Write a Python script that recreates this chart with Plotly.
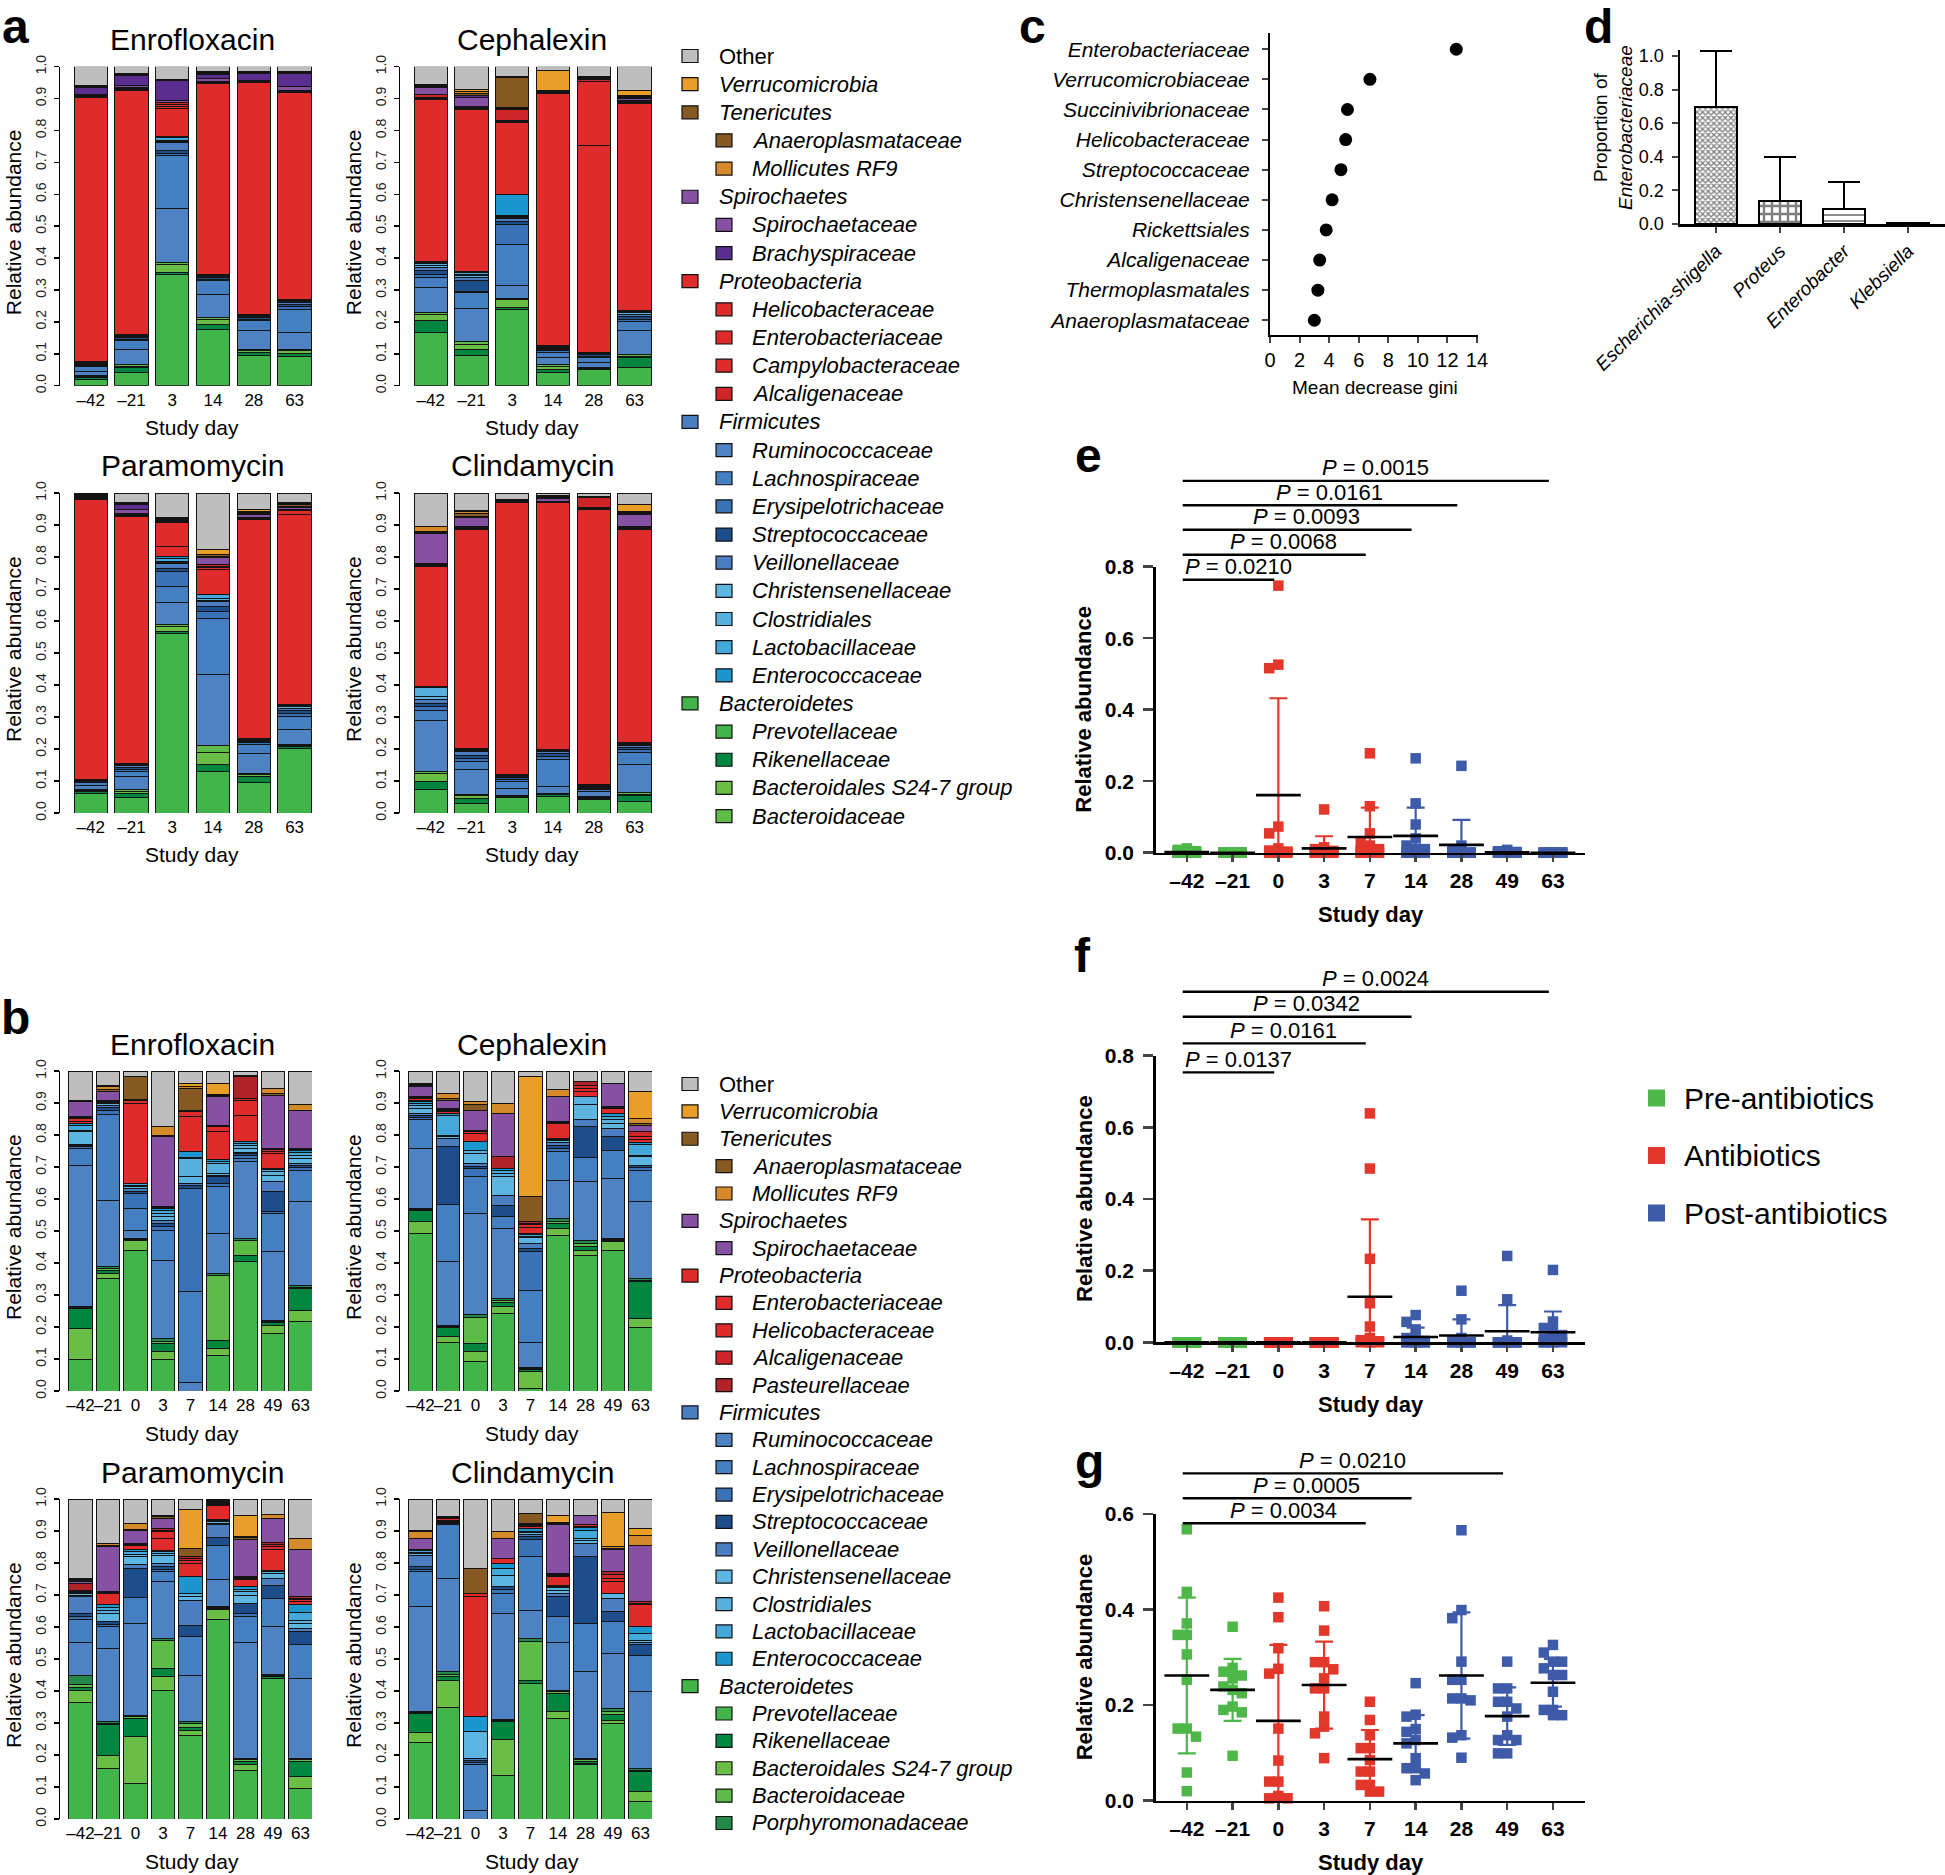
import numpy as np
import plotly.graph_objects as go

W, H = 1945, 1875
FONT = "Liberation Sans, Arial, Helvetica, sans-serif"

# ---------------- colours of the taxa ----------------
COLORS = {
    "other": "#BEBEBE", "verr": "#E99F27", "tene": "#875A24", "anae": "#875A24", "moll": "#D4892B",
    "spiro_p": "#8650A3", "spir": "#8650A3", "brac": "#5B2D8E",
    "prot": "#E02B2B", "heli": "#E02B2B", "entb": "#E02B2B", "camp": "#E02B2B",
    "alca": "#CF2529", "past": "#B22329",
    "firm": "#4A7EC0", "rum": "#4F82C3", "lach": "#4480C1", "erys": "#3A72B8", "strep": "#1E4D8C",
    "veil": "#4C7DC0", "chri": "#5DB5E2", "clos": "#58B0DE", "lact": "#45A8DA", "entc": "#1C96CF",
    "bacd": "#42B54A", "prev": "#42B54A", "rik": "#00863F", "s24": "#6ABD45", "bact": "#5DBB47",
    "porph": "#22894A",
}

# stacking order, bottom to top
ORDER_A = ["prev", "rik", "s24", "bact", "rum", "lach", "erys", "strep", "veil", "chri", "clos",
           "lact", "entc", "heli", "entb", "camp", "alca", "spir", "brac", "anae", "moll", "verr", "other"]
ORDER_B = ["prev", "s24", "rik", "bact", "porph", "rum", "lach", "erys", "strep", "veil", "chri", "clos",
           "lact", "entc", "entb", "heli", "alca", "past", "spir", "anae", "moll", "verr", "other"]

days_a = ["–42", "–21", "3", "14", "28", "63"]
days_b = ["–42", "–21", "0", "3", "7", "14", "28", "49", "63"]

# ---------------- panel a : relative abundance (days -42,-21,3,14,28,63) ----------------
a_enro = {
    "prev": [0.019, 0.042, 0.350, 0.177, 0.096, 0.092], "rik": [0.006, 0.015, 0.004, 0.016, 0.008, 0.010],
    "s24": [0.004, 0.004, 0.027, 0.016, 0.007, 0.008], "bact": [0.004, 0.005, 0.005, 0.004, 0.004, 0.005],
    "rum": [0.012, 0.049, 0.169, 0.074, 0.057, 0.052], "lach": [0.014, 0.026, 0.167, 0.042, 0.032, 0.073],
    "erys": [0.004, 0.005, 0.006, 0.005, 0.005, 0.008], "strep": [0.003, 0.005, 0.008, 0.005, 0.004, 0.008],
    "veil": [0.003, 0.004, 0.026, 0.004, 0.004, 0.006], "chri": [0.002, 0.003, 0.003, 0.003, 0.003, 0.003],
    "clos": [0.002, 0.002, 0.004, 0.002, 0.002, 0.003], "lact": [0.001, 0.001, 0.010, 0.001, 0.001, 0.001],
    "entc": [0.001, 0.001, 0.003, 0.001, 0.001, 0.001], "heli": [0.828, 0.763, 0.086, 0.598, 0.726, 0.648],
    "entb": [0.003, 0.004, 0.006, 0.003, 0.003, 0.003], "camp": [0.002, 0.002, 0.006, 0.001, 0.001, 0.002],
    "alca": [0.002, 0.003, 0.009, 0.002, 0.001, 0.002], "spir": [0.003, 0.008, 0.004, 0.010, 0.003, 0.012],
    "brac": [0.023, 0.030, 0.064, 0.012, 0.021, 0.043], "anae": [0.002, 0.003, 0.002, 0.004, 0.003, 0.002],
    "moll": [0.001, 0.002, 0.001, 0.003, 0.002, 0.001], "verr": [0.001, 0.001, 0.001, 0.002, 0.001, 0.001],
    "other": [0.060, 0.022, 0.039, 0.015, 0.015, 0.016],
}
a_ceph = {
    "prev": [0.167, 0.096, 0.240, 0.042, 0.050, 0.057], "rik": [0.037, 0.019, 0.004, 0.008, 0.004, 0.030],
    "s24": [0.020, 0.015, 0.027, 0.010, 0.002, 0.005], "bact": [0.004, 0.010, 0.003, 0.005, 0.002, 0.005],
    "rum": [0.080, 0.101, 0.039, 0.022, 0.015, 0.075], "lach": [0.031, 0.051, 0.131, 0.017, 0.016, 0.028],
    "erys": [0.010, 0.004, 0.062, 0.005, 0.004, 0.008], "strep": [0.012, 0.033, 0.010, 0.005, 0.004, 0.008],
    "veil": [0.010, 0.010, 0.008, 0.004, 0.003, 0.007], "chri": [0.006, 0.006, 0.004, 0.003, 0.002, 0.005],
    "clos": [0.006, 0.005, 0.002, 0.002, 0.001, 0.004], "lact": [0.003, 0.004, 0.002, 0.001, 0.001, 0.002],
    "entc": [0.002, 0.003, 0.068, 0.001, 0.001, 0.001], "heli": [0.510, 0.509, 0.225, 0.790, 0.647, 0.650],
    "entb": [0.003, 0.004, 0.002, 0.002, 0.201, 0.004], "camp": [0.002, 0.002, 0.003, 0.001, 0.002, 0.002],
    "alca": [0.010, 0.003, 0.036, 0.002, 0.004, 0.004], "spir": [0.021, 0.030, 0.003, 0.002, 0.004, 0.004],
    "brac": [0.003, 0.004, 0.002, 0.001, 0.003, 0.004], "anae": [0.004, 0.008, 0.095, 0.001, 0.002, 0.004],
    "moll": [0.002, 0.006, 0.002, 0.001, 0.001, 0.003], "verr": [0.002, 0.006, 0.001, 0.062, 0.001, 0.014],
    "other": [0.055, 0.071, 0.031, 0.013, 0.030, 0.076],
}
a_para = {
    "prev": [0.0625, 0.047, 0.5625, 0.130, 0.094, 0.203], "rik": [0.004, 0.013, 0.005, 0.021, 0.021, 0.004],
    "s24": [0.004, 0.006, 0.016, 0.037, 0.006, 0.004], "bact": [0.004, 0.007, 0.005, 0.022, 0.004, 0.003],
    "rum": [0.010, 0.042, 0.068, 0.222, 0.0625, 0.046], "lach": [0.010, 0.015, 0.052, 0.177, 0.0265, 0.042],
    "erys": [0.003, 0.007, 0.047, 0.020, 0.005, 0.010], "strep": [0.003, 0.006, 0.008, 0.017, 0.005, 0.008],
    "veil": [0.002, 0.005, 0.015, 0.015, 0.004, 0.008], "chri": [0.001, 0.003, 0.004, 0.004, 0.002, 0.005],
    "clos": [0.001, 0.002, 0.004, 0.004, 0.002, 0.003], "lact": [0.0005, 0.002, 0.008, 0.013, 0.001, 0.002],
    "entc": [0.0005, 0.001, 0.007, 0.002, 0.001, 0.001], "heli": [0.873, 0.772, 0.032, 0.076, 0.683, 0.593],
    "entb": [0.003, 0.003, 0.073, 0.006, 0.002, 0.012], "camp": [0.002, 0.002, 0.003, 0.005, 0.001, 0.002],
    "alca": [0.002, 0.003, 0.005, 0.005, 0.002, 0.004], "spir": [0.003, 0.012, 0.002, 0.021, 0.010, 0.004],
    "brac": [0.004, 0.016, 0.002, 0.006, 0.004, 0.004], "anae": [0.002, 0.003, 0.002, 0.004, 0.004, 0.005],
    "moll": [0.001, 0.002, 0.001, 0.002, 0.003, 0.004], "verr": [0.001, 0.002, 0.001, 0.016, 0.006, 0.002],
    "other": [0.0035, 0.029, 0.0775, 0.175, 0.051, 0.031],
}
a_clin = {
    "prev": [0.073, 0.031, 0.047, 0.052, 0.042, 0.036], "rik": [0.026, 0.013, 0.004, 0.005, 0.004, 0.018],
    "s24": [0.026, 0.010, 0.003, 0.003, 0.003, 0.005], "bact": [0.004, 0.004, 0.002, 0.002, 0.003, 0.004],
    "rum": [0.161, 0.077, 0.022, 0.021, 0.016, 0.088], "lach": [0.031, 0.026, 0.021, 0.084, 0.006, 0.037],
    "erys": [0.012, 0.010, 0.006, 0.010, 0.004, 0.009], "strep": [0.010, 0.010, 0.005, 0.008, 0.003, 0.007],
    "veil": [0.012, 0.010, 0.004, 0.006, 0.003, 0.006], "chri": [0.010, 0.005, 0.002, 0.003, 0.002, 0.004],
    "clos": [0.026, 0.004, 0.002, 0.002, 0.001, 0.003], "lact": [0.003, 0.002, 0.001, 0.001, 0.001, 0.001],
    "entc": [0.002, 0.001, 0.001, 0.001, 0.0005, 0.001], "heli": [0.375, 0.682, 0.849, 0.771, 0.8595, 0.666],
    "entb": [0.004, 0.004, 0.002, 0.003, 0.005, 0.004], "camp": [0.003, 0.002, 0.001, 0.001, 0.001, 0.002],
    "alca": [0.003, 0.003, 0.002, 0.001, 0.031, 0.004], "spir": [0.094, 0.028, 0.002, 0.008, 0.001, 0.037],
    "brac": [0.003, 0.006, 0.001, 0.004, 0.001, 0.003], "anae": [0.002, 0.008, 0.001, 0.002, 0.0005, 0.004],
    "moll": [0.014, 0.006, 0.001, 0.002, 0.0005, 0.004], "verr": [0.001, 0.004, 0.001, 0.001, 0.000, 0.021],
    "other": [0.105, 0.054, 0.020, 0.009, 0.012, 0.036],
}

# ---------------- panel b : relative abundance (days -42 ... 63) ----------------
b_enro = {
    "prev": [0.098, 0.351, 0.440, 0.098, 0.000, 0.112, 0.404, 0.179, 0.218],
    "s24": [0.097, 0.016, 0.031, 0.026, 0.000, 0.020, 0.000, 0.026, 0.034],
    "rik": [0.063, 0.010, 0.003, 0.024, 0.000, 0.026, 0.020, 0.008, 0.068],
    "bact": [0.003, 0.006, 0.002, 0.008, 0.000, 0.204, 0.047, 0.004, 0.005],
    "porph": [0.002, 0.005, 0.001, 0.008, 0.000, 0.005, 0.006, 0.004, 0.006],
    "rum": [0.441, 0.208, 0.026, 0.245, 0.028, 0.125, 0.239, 0.214, 0.260],
    "lach": [0.054, 0.268, 0.067, 0.094, 0.282, 0.146, 0.010, 0.120, 0.099],
    "erys": [0.005, 0.012, 0.047, 0.012, 0.323, 0.012, 0.011, 0.005, 0.008],
    "strep": [0.005, 0.010, 0.008, 0.008, 0.008, 0.019, 0.004, 0.062, 0.007],
    "veil": [0.003, 0.006, 0.007, 0.010, 0.007, 0.005, 0.003, 0.032, 0.006],
    "chri": [0.039, 0.005, 0.006, 0.012, 0.021, 0.006, 0.014, 0.021, 0.016],
    "clos": [0.004, 0.004, 0.004, 0.010, 0.058, 0.031, 0.008, 0.010, 0.010],
    "lact": [0.017, 0.003, 0.006, 0.008, 0.004, 0.006, 0.008, 0.006, 0.008],
    "entc": [0.004, 0.001, 0.002, 0.007, 0.017, 0.005, 0.005, 0.004, 0.006],
    "entb": [0.007, 0.001, 0.249, 0.002, 0.109, 0.088, 0.083, 0.047, 0.004],
    "heli": [0.010, 0.001, 0.010, 0.002, 0.016, 0.016, 0.047, 0.008, 0.003],
    "alca": [0.003, 0.000, 0.001, 0.002, 0.002, 0.003, 0.005, 0.004, 0.000],
    "past": [0.002, 0.000, 0.000, 0.002, 0.001, 0.002, 0.068, 0.004, 0.000],
    "spir": [0.047, 0.028, 0.000, 0.217, 0.000, 0.089, 0.000, 0.167, 0.120],
    "anae": [0.002, 0.006, 0.072, 0.002, 0.070, 0.005, 0.000, 0.004, 0.000],
    "moll": [0.002, 0.010, 0.000, 0.029, 0.005, 0.003, 0.003, 0.016, 0.016],
    "verr": [0.001, 0.004, 0.000, 0.000, 0.010, 0.033, 0.000, 0.000, 0.000],
    "other": [0.091, 0.045, 0.018, 0.174, 0.039, 0.039, 0.015, 0.055, 0.106],
}
b_ceph = {
    "prev": [0.492, 0.153, 0.091, 0.242, 0.007, 0.487, 0.424, 0.440, 0.200],
    "s24": [0.037, 0.016, 0.031, 0.021, 0.055, 0.021, 0.016, 0.026, 0.026],
    "rik": [0.036, 0.031, 0.026, 0.013, 0.005, 0.015, 0.012, 0.005, 0.115],
    "bact": [0.003, 0.003, 0.083, 0.007, 0.003, 0.008, 0.010, 0.003, 0.005],
    "porph": [0.002, 0.002, 0.008, 0.006, 0.002, 0.008, 0.009, 0.003, 0.005],
    "rum": [0.188, 0.199, 0.316, 0.219, 0.081, 0.120, 0.183, 0.187, 0.240],
    "lach": [0.089, 0.179, 0.114, 0.036, 0.162, 0.089, 0.075, 0.089, 0.099],
    "erys": [0.008, 0.000, 0.026, 0.000, 0.120, 0.010, 0.000, 0.000, 0.008],
    "strep": [0.007, 0.180, 0.008, 0.037, 0.010, 0.010, 0.097, 0.042, 0.008],
    "veil": [0.006, 0.026, 0.008, 0.031, 0.016, 0.008, 0.021, 0.026, 0.000],
    "chri": [0.015, 0.005, 0.031, 0.057, 0.018, 0.006, 0.047, 0.015, 0.026],
    "clos": [0.008, 0.006, 0.011, 0.012, 0.005, 0.004, 0.026, 0.012, 0.005],
    "lact": [0.008, 0.062, 0.000, 0.008, 0.004, 0.002, 0.000, 0.010, 0.032],
    "entc": [0.005, 0.006, 0.026, 0.006, 0.004, 0.001, 0.000, 0.010, 0.008],
    "entb": [0.004, 0.005, 0.026, 0.000, 0.020, 0.047, 0.015, 0.015, 0.008],
    "heli": [0.006, 0.005, 0.005, 0.000, 0.008, 0.003, 0.010, 0.003, 0.010],
    "alca": [0.003, 0.003, 0.005, 0.000, 0.005, 0.002, 0.010, 0.002, 0.015],
    "past": [0.002, 0.002, 0.000, 0.037, 0.004, 0.000, 0.012, 0.000, 0.000],
    "spir": [0.032, 0.026, 0.063, 0.136, 0.000, 0.079, 0.000, 0.073, 0.021],
    "anae": [0.005, 0.004, 0.016, 0.000, 0.078, 0.000, 0.000, 0.000, 0.004],
    "moll": [0.003, 0.017, 0.010, 0.031, 0.000, 0.021, 0.000, 0.000, 0.017],
    "verr": [0.002, 0.000, 0.000, 0.000, 0.375, 0.000, 0.000, 0.000, 0.083],
    "other": [0.039, 0.070, 0.096, 0.101, 0.018, 0.059, 0.033, 0.039, 0.065],
}
b_para = {
    "prev": [0.364, 0.158, 0.111, 0.403, 0.2625, 0.624, 0.151, 0.440, 0.094],
    "s24": [0.039, 0.042, 0.148, 0.042, 0.015, 0.031, 0.018, 0.000, 0.038],
    "rik": [0.008, 0.094, 0.056, 0.026, 0.010, 0.003, 0.010, 0.005, 0.047],
    "bact": [0.008, 0.005, 0.005, 0.088, 0.010, 0.003, 0.006, 0.004, 0.006],
    "porph": [0.031, 0.005, 0.005, 0.006, 0.0065, 0.003, 0.005, 0.004, 0.005],
    "rum": [0.101, 0.229, 0.286, 0.177, 0.146, 0.083, 0.361, 0.148, 0.250],
    "lach": [0.071, 0.068, 0.081, 0.031, 0.120, 0.109, 0.081, 0.089, 0.104],
    "erys": [0.010, 0.008, 0.000, 0.008, 0.000, 0.000, 0.010, 0.000, 0.000],
    "strep": [0.011, 0.008, 0.091, 0.009, 0.036, 0.024, 0.032, 0.041, 0.041],
    "veil": [0.052, 0.000, 0.011, 0.009, 0.078, 0.039, 0.000, 0.021, 0.011],
    "chri": [0.005, 0.026, 0.026, 0.026, 0.011, 0.005, 0.026, 0.016, 0.015],
    "clos": [0.005, 0.010, 0.008, 0.005, 0.010, 0.005, 0.010, 0.005, 0.008],
    "lact": [0.003, 0.008, 0.007, 0.005, 0.000, 0.005, 0.008, 0.005, 0.0265],
    "entc": [0.002, 0.008, 0.006, 0.005, 0.052, 0.003, 0.008, 0.000, 0.025],
    "entb": [0.003, 0.036, 0.015, 0.037, 0.042, 0.044, 0.021, 0.063, 0.008],
    "heli": [0.002, 0.003, 0.003, 0.021, 0.010, 0.003, 0.006, 0.010, 0.008],
    "alca": [0.000, 0.002, 0.002, 0.005, 0.006, 0.002, 0.003, 0.007, 0.004],
    "past": [0.021, 0.000, 0.000, 0.005, 0.005, 0.002, 0.003, 0.006, 0.005],
    "spir": [0.005, 0.141, 0.042, 0.032, 0.000, 0.002, 0.115, 0.076, 0.146],
    "anae": [0.005, 0.005, 0.003, 0.005, 0.026, 0.002, 0.005, 0.000, 0.000],
    "moll": [0.004, 0.005, 0.016, 0.005, 0.000, 0.002, 0.005, 0.013, 0.036],
    "verr": [0.002, 0.000, 0.000, 0.000, 0.120, 0.001, 0.066, 0.000, 0.000],
    "other": [0.248, 0.139, 0.078, 0.050, 0.034, 0.005, 0.050, 0.047, 0.1225],
}
b_clin = {
    "prev": [0.239, 0.349, 0.000, 0.1375, 0.424, 0.315, 0.169, 0.297, 0.056],
    "s24": [0.031, 0.085, 0.000, 0.1095, 0.000, 0.020, 0.006, 0.012, 0.029],
    "rik": [0.060, 0.012, 0.000, 0.057, 0.010, 0.058, 0.006, 0.019, 0.063],
    "bact": [0.004, 0.007, 0.000, 0.004, 0.120, 0.005, 0.005, 0.009, 0.005],
    "porph": [0.0035, 0.007, 0.000, 0.003, 0.011, 0.005, 0.004, 0.009, 0.005],
    "rum": [0.3265, 0.292, 0.028, 0.332, 0.088, 0.148, 0.270, 0.170, 0.240],
    "lach": [0.109, 0.167, 0.141, 0.062, 0.167, 0.081, 0.151, 0.101, 0.1145],
    "erys": [0.008, 0.005, 0.008, 0.011, 0.052, 0.000, 0.000, 0.000, 0.000],
    "strep": [0.008, 0.004, 0.007, 0.010, 0.010, 0.063, 0.209, 0.031, 0.0315],
    "veil": [0.036, 0.003, 0.006, 0.000, 0.008, 0.010, 0.041, 0.042, 0.008],
    "chri": [0.005, 0.001, 0.083, 0.034, 0.004, 0.010, 0.008, 0.015, 0.007],
    "clos": [0.004, 0.001, 0.000, 0.000, 0.004, 0.008, 0.008, 0.000, 0.000],
    "lact": [0.004, 0.0005, 0.000, 0.023, 0.000, 0.004, 0.026, 0.000, 0.021],
    "entc": [0.003, 0.0005, 0.047, 0.016, 0.010, 0.004, 0.008, 0.000, 0.021],
    "entb": [0.000, 0.005, 0.375, 0.016, 0.005, 0.026, 0.004, 0.037, 0.068],
    "heli": [0.000, 0.003, 0.010, 0.000, 0.005, 0.005, 0.004, 0.011, 0.005],
    "alca": [0.000, 0.000, 0.000, 0.000, 0.003, 0.003, 0.000, 0.010, 0.005],
    "past": [0.000, 0.003, 0.000, 0.000, 0.003, 0.003, 0.000, 0.010, 0.000],
    "spir": [0.036, 0.000, 0.000, 0.062, 0.000, 0.151, 0.031, 0.068, 0.177],
    "anae": [0.000, 0.000, 0.078, 0.000, 0.031, 0.004, 0.000, 0.005, 0.000],
    "moll": [0.021, 0.000, 0.000, 0.021, 0.000, 0.004, 0.000, 0.005, 0.0315],
    "verr": [0.005, 0.000, 0.000, 0.000, 0.000, 0.020, 0.000, 0.106, 0.0205],
    "other": [0.097, 0.055, 0.217, 0.102, 0.045, 0.053, 0.050, 0.043, 0.092],
}

# legend rows: (label, colour code, indent level)
legend_a = [("Other", "other", 0), ("Verrucomicrobia", "verr", 0), ("Tenericutes", "tene", 0),
            ("Anaeroplasmataceae", "anae", 1), ("Mollicutes RF9", "moll", 1), ("Spirochaetes", "spiro_p", 0),
            ("Spirochaetaceae", "spir", 1), ("Brachyspiraceae", "brac", 1), ("Proteobacteria", "prot", 0),
            ("Helicobacteraceae", "heli", 1), ("Enterobacteriaceae", "entb", 1),
            ("Campylobacteraceae", "camp", 1), ("Alcaligenaceae", "alca", 1), ("Firmicutes", "firm", 0),
            ("Ruminococcaceae", "rum", 1), ("Lachnospiraceae", "lach", 1), ("Erysipelotrichaceae", "erys", 1),
            ("Streptococcaceae", "strep", 1), ("Veillonellaceae", "veil", 1), ("Christensenellaceae", "chri", 1),
            ("Clostridiales", "clos", 1), ("Lactobacillaceae", "lact", 1), ("Enterococcaceae", "entc", 1),
            ("Bacteroidetes", "bacd", 0), ("Prevotellaceae", "prev", 1), ("Rikenellaceae", "rik", 1),
            ("Bacteroidales S24-7 group", "s24", 1), ("Bacteroidaceae", "bact", 1)]
legend_b = [("Other", "other", 0), ("Verrucomicrobia", "verr", 0), ("Tenericutes", "tene", 0),
            ("Anaeroplasmataceae", "anae", 1), ("Mollicutes RF9", "moll", 1), ("Spirochaetes", "spiro_p", 0),
            ("Spirochaetaceae", "spir", 1), ("Proteobacteria", "prot", 0), ("Enterobacteriaceae", "entb", 1),
            ("Helicobacteraceae", "heli", 1), ("Alcaligenaceae", "alca", 1), ("Pasteurellaceae", "past", 1),
            ("Firmicutes", "firm", 0), ("Ruminococcaceae", "rum", 1), ("Lachnospiraceae", "lach", 1),
            ("Erysipelotrichaceae", "erys", 1), ("Streptococcaceae", "strep", 1), ("Veillonellaceae", "veil", 1),
            ("Christensenellaceae", "chri", 1), ("Clostridiales", "clos", 1), ("Lactobacillaceae", "lact", 1),
            ("Enterococcaceae", "entc", 1), ("Bacteroidetes", "bacd", 0), ("Prevotellaceae", "prev", 1),
            ("Rikenellaceae", "rik", 1), ("Bacteroidales S24-7 group", "s24", 1), ("Bacteroidaceae", "bact", 1),
            ("Porphyromonadaceae", "porph", 1)]

# ---------------- panel c : random forest importance ----------------
c_taxa = ["Enterobacteriaceae", "Verrucomicrobiaceae", "Succinivibrionaceae", "Helicobacteraceae",
          "Streptococcaceae", "Christensenellaceae", "Rickettsiales", "Alcaligenaceae",
          "Thermoplasmatales", "Anaeroplasmataceae"]
c_gini = [12.6, 6.76, 5.24, 5.12, 4.8, 4.2, 3.8, 3.36, 3.24, 3.0]

# ---------------- panel d : genera within Enterobacteriaceae ----------------
d_genus = ["Escherichia-shigella", "Proteus", "Enterobacter", "Klebsiella"]
d_prop = [0.695, 0.139, 0.089, 0.004]
d_sd = [0.335, 0.258, 0.163, 0.003]

# ---------------- panels e, f, g : per-dog relative abundance ----------------
days_efg = ["–42", "–21", "0", "3", "7", "14", "28", "49", "63"]
phase = ["pre", "pre", "abx", "abx", "abx", "post", "post", "post", "post"]
PHASE_COL = {"pre": "#4DB748", "abx": "#E3372B", "post": "#3E5BA9"}

e_points = [
    [0.012, 0.008, 0.004, 0.002, 0, 0, 0, 0, 0, 0, 0, 0],
    [0, 0, 0, 0, 0, 0, 0, 0, 0, 0, 0, 0],
    [0.747, 0.526, 0.516, 0.073, 0.054, 0.012, 0.006, 0.003, 0, 0, 0, 0],
    [0.121, 0.015, 0.010, 0.005, 0.003, 0, 0, 0, 0, 0, 0, 0],
    [0.278, 0.130, 0.054, 0.030, 0.020, 0.010, 0.005, 0.005, 0, 0, 0, 0],
    [0.264, 0.138, 0.079, 0.040, 0.020, 0.010, 0.010, 0, 0, 0, 0, 0],
    [0.243, 0.020, 0.005, 0, 0, 0, 0, 0, 0, 0, 0, 0],
    [0.008, 0.004, 0.002, 0, 0, 0, 0, 0, 0, 0, 0, 0],
    [0, 0, 0, 0, 0, 0, 0, 0, 0, 0, 0, 0],
]
e_mean = [0.002, 0.0, 0.161, 0.012, 0.044, 0.047, 0.022, 0.001, 0.0]
e_sd = [0.004, 0.0, 0.271, 0.034, 0.082, 0.079, 0.070, 0.002, 0.0]
e_pvals = [("0.0015", 8), ("0.0161", 6), ("0.0093", 5), ("0.0068", 4), ("0.0210", 2)]

f_points = [
    [0, 0, 0, 0, 0, 0, 0, 0, 0, 0, 0, 0],
    [0, 0, 0, 0, 0, 0, 0, 0, 0, 0, 0, 0],
    [0, 0, 0, 0, 0, 0, 0, 0, 0, 0, 0, 0],
    [0, 0, 0, 0, 0, 0, 0, 0, 0, 0, 0, 0],
    [0.639, 0.485, 0.233, 0.109, 0.044, 0.012, 0.006, 0.003, 0, 0, 0, 0],
    [0.076, 0.057, 0.036, 0.012, 0.008, 0.004, 0, 0, 0, 0, 0, 0],
    [0.144, 0.064, 0.012, 0.005, 0, 0, 0, 0, 0, 0, 0, 0],
    [0.241, 0.120, 0.005, 0, 0, 0, 0, 0, 0, 0, 0, 0],
    [0.202, 0.058, 0.040, 0.030, 0.020, 0.010, 0.005, 0, 0, 0, 0, 0],
]
f_mean = [0.0, 0.0, 0.0, 0.0, 0.127, 0.015, 0.019, 0.031, 0.028]
f_sd = [0.0, 0.0, 0.0, 0.0, 0.216, 0.026, 0.045, 0.073, 0.058]
f_pvals = [("0.0024", 8), ("0.0342", 5), ("0.0161", 4), ("0.0137", 2)]

g_points = [
    [0.568, 0.437, 0.371, 0.347, 0.347, 0.306, 0.253, 0.151, 0.151, 0.134, 0.059, 0.020],
    [0.364, 0.278, 0.270, 0.262, 0.256, 0.239, 0.232, 0.225, 0.197, 0.190, 0.185, 0.094],
    [0.425, 0.384, 0.319, 0.276, 0.266, 0.151, 0.084, 0.040, 0.040, 0.010, 0.005, 0.005],
    [0.407, 0.356, 0.290, 0.290, 0.275, 0.256, 0.235, 0.235, 0.176, 0.155, 0.141, 0.089],
    [0.207, 0.169, 0.137, 0.110, 0.110, 0.085, 0.061, 0.061, 0.033, 0.033, 0.019, 0.019],
    [0.246, 0.180, 0.176, 0.150, 0.144, 0.127, 0.120, 0.089, 0.068, 0.068, 0.057, 0.043],
    [0.566, 0.399, 0.382, 0.291, 0.253, 0.253, 0.214, 0.214, 0.210, 0.137, 0.132, 0.090],
    [0.291, 0.235, 0.235, 0.207, 0.207, 0.193, 0.176, 0.137, 0.127, 0.127, 0.099, 0.099],
    [0.326, 0.310, 0.291, 0.291, 0.277, 0.263, 0.263, 0.228, 0.190, 0.190, 0.179, 0.179],
]
g_mean = [0.262, 0.232, 0.167, 0.242, 0.087, 0.120, 0.262, 0.177, 0.247]
g_sd = [0.163, 0.065, 0.159, 0.091, 0.061, 0.059, 0.132, 0.060, 0.050]
g_pvals = [("0.0210", 7), ("0.0005", 5), ("0.0034", 4)]


# ======================================================================
def fx(p):
    return p / W


def fy(p):
    return 1 - p / H


def axkey(k, n):
    return f"{k}axis" + ("" if n == 1 else str(n))


def ref(k, n):
    return k + ("" if n == 1 else str(n))


fig = go.Figure()
layout = {}
shapes = []
annots = []


def ann(x, y, text, size, weight="normal", **kw):
    d = dict(x=fx(x), y=fy(y), xref="paper", yref="paper", text=text, showarrow=False,
             xanchor="center", yanchor="middle",
             font=dict(family=FONT, size=size, color="black", weight=weight))
    d.update(kw)
    annots.append(d)


YT = [round(0.1 * i, 1) for i in range(11)]


def stack_panel(n, title, data, order, days, x0, y0, y1, xr, bw):
    xs = list(range(len(days)))
    for code in order:
        fig.add_trace(go.Bar(x=xs, y=data[code], width=bw, xaxis=ref("x", n), yaxis=ref("y", n),
                             marker=dict(color=COLORS[code], line=dict(color="#141414", width=1)),
                             showlegend=False, hoverinfo="skip"))
    layout[axkey("x", n)] = dict(
        domain=[fx(x0), fx(x0 + 252)], anchor=ref("y", n), range=xr, tickmode="array",
        tickvals=xs, ticktext=days, tickangle=0, ticks="", showline=False, showgrid=False,
        zeroline=False, ticklabelstandoff=2, automargin=False,
        tickfont=dict(family=FONT, size=17, color="black"))
    layout[axkey("y", n)] = dict(
        domain=[fy(y0), fy(y1)], anchor=ref("x", n), range=[0, 1], tickmode="array",
        tickvals=YT, ticktext=[f"{v:.1f}" for v in YT], tickangle=-90, ticks="outside",
        ticklen=5, tickwidth=1.5, tickcolor="black", showline=True, linewidth=1.5,
        linecolor="black", showgrid=False, zeroline=False, ticklabelstandoff=2, automargin=False,
        tickfont=dict(family=FONT, size=14, color="#222"))
    cx = x0 + 132
    ann(cx, y1 - 27, title, 30)
    ann(cx, y0 + 42, "Study day", 21)
    ann(x0 - 47, (y0 + y1) / 2 - 4, "Relative abundance", 21, textangle=-90)


XR_A = [-0.752, 5.426]
XR_B = [-0.745, 8.42]
stack_panel(1, "Enrofloxacin", a_enro, ORDER_A, days_a, 60, 385.7, 66.7, XR_A, 0.816)
stack_panel(2, "Cephalexin", a_ceph, ORDER_A, days_a, 400, 385.7, 66.7, XR_A, 0.816)
stack_panel(3, "Paramomycin", a_para, ORDER_A, days_a, 60, 813, 493, XR_A, 0.816)
stack_panel(4, "Clindamycin", a_clin, ORDER_A, days_a, 400, 813, 493, XR_A, 0.816)
stack_panel(5, "Enrofloxacin", b_enro, ORDER_B, days_b, 60, 1391, 1071, XR_B, 0.84)
stack_panel(6, "Cephalexin", b_ceph, ORDER_B, days_b, 400, 1391, 1071, XR_B, 0.84)
stack_panel(7, "Paramomycin", b_para, ORDER_B, days_b, 60, 1819, 1499, XR_B, 0.84)
stack_panel(8, "Clindamycin", b_clin, ORDER_B, days_b, 400, 1819, 1499, XR_B, 0.84)


def taxon_legend(rows, y_first, step):
    for i, (label, code, level) in enumerate(rows):
        yc = y_first + i * step
        cx = 690 if level == 0 else 724
        shapes.append(dict(type="rect", xref="paper", yref="paper", x0=fx(cx - 8), x1=fx(cx + 8),
                           y0=fy(yc + 6.5), y1=fy(yc - 6.5), fillcolor=COLORS[code],
                           line=dict(color="#111", width=1.2)))
        text = label if label == "Other" else f"<i>{label}</i>"
        ann(717 if level == 0 else 750, yc, text, 22, xanchor="left")


taxon_legend(legend_a, 56, 28.15)
taxon_legend(legend_b, 1084, 27.37)

# ---------------- panel c ----------------
fig.add_trace(go.Scatter(x=c_gini, y=list(range(len(c_taxa))), mode="markers", xaxis="x9", yaxis="y9",
                         marker=dict(size=13, color="black"), showlegend=False, hoverinfo="skip",
                         cliponaxis=False))
layout["xaxis9"] = dict(domain=[fx(1270), fx(1478)], anchor="y9", range=[0, 14.07],
                        tickvals=list(range(0, 15, 2)), ticks="outside", ticklen=6, tickwidth=2,
                        showline=True, linewidth=2, linecolor="black", showgrid=False, zeroline=False,
                        ticklabelstandoff=0, automargin=False, tickangle=0,
                        tickfont=dict(family=FONT, size=20, color="black"))
layout["yaxis9"] = dict(domain=[fy(335), fy(33)], anchor="x9", range=[9.49, -0.54],
                        tickvals=list(range(len(c_taxa))), ticktext=[f"<i>{t}</i>" for t in c_taxa],
                        ticks="outside", ticklen=6, tickwidth=2, showline=True, linewidth=2,
                        linecolor="black", showgrid=False, zeroline=False, ticklabelstandoff=8,
                        automargin=False, tickfont=dict(family=FONT, size=21, color="black"))
ann(1375, 387, "Mean decrease gini", 19)

# ---------------- panel d ----------------
fig.add_trace(go.Bar(
    x=list(range(len(d_genus))), y=d_prop, width=0.66, xaxis="x10", yaxis="y10",
    marker=dict(color="white", line=dict(color="black", width=2),
                pattern=dict(shape=["x", "+", "-", ""], size=[4, 8, 6, 4], solidity=[0.55, 0.5, 0.3, 0.3],
                             fgcolor="black", bgcolor="white")),
    error_y=dict(type="data", array=d_sd, arrayminus=[0] * len(d_sd), color="black", thickness=2, width=16),
    showlegend=False, hoverinfo="skip"))
layout["xaxis10"] = dict(domain=[fx(1680), fx(1945)], anchor="y10", range=[-0.5625, 3.58],
                         tickvals=list(range(len(d_genus))), ticktext=[f"<i>{g}</i>" for g in d_genus],
                         tickangle=-45, ticks="outside", ticklen=6, tickwidth=2, showline=True, linewidth=2.5,
                         linecolor="black", showgrid=False, zeroline=False, automargin=False,
                         tickfont=dict(family=FONT, size=19, color="black"))
layout["yaxis10"] = dict(domain=[fy(224), fy(50)], anchor="x10", range=[0, 1.036],
                         tickvals=[0, 0.2, 0.4, 0.6, 0.8, 1.0], ticktext=["0.0", "0.2", "0.4", "0.6", "0.8", "1.0"],
                         ticks="outside", ticklen=6, tickwidth=2, showline=True, linewidth=2.5,
                         linecolor="black", showgrid=False, zeroline=False, ticklabelstandoff=4,
                         automargin=False, tickfont=dict(family=FONT, size=18, color="black"))
ann(1613, 128, "Proportion of<br><i>Enterobacteriaceae</i>", 19, textangle=-90)

# ---------------- panels e, f, g ----------------
XR_D = [-0.68, 8.70]
XD_PX = [1155.7, 1585.0]


def swarm(vals, px_per_unit, step=0.2, size_px=10):
    # simple beeswarm: three columns, pick the column with fewest overlapping squares
    order = np.argsort(-np.asarray(vals, dtype=float), kind="stable")
    placed, offs = [], [0.0] * len(vals)
    for i in order:
        best, best_c = 0, None
        for s in (0, -1, 1):
            c = sum(1 for (ss, yy) in placed if ss == s and abs(yy - vals[i]) * px_per_unit < size_px)
            if best_c is None or c < best_c:
                best, best_c = s, c
        placed.append((best, vals[i]))
        offs[i] = best * step
    return offs


def dot_panel(n, points, means, sds, y0, y1, ytop, yticks, pvals, levels):
    xa, ya = ref("x", n), ref("y", n)
    ppu = (y0 - y1) / ytop
    for i, vals in enumerate(points):
        offs = swarm(vals, ppu)
        fig.add_trace(go.Scatter(x=[i + o for o in offs], y=vals, mode="markers", xaxis=xa, yaxis=ya,
                                 marker=dict(symbol="square", size=10.5, color=PHASE_COL[phase[i]], line=dict(width=0)),
                                 cliponaxis=False, showlegend=False, hoverinfo="skip"))
    for i in range(len(means)):
        fig.add_trace(go.Scatter(x=[i], y=[means[i]], mode="markers", xaxis=xa, yaxis=ya,
                                 marker=dict(size=1, color="rgba(0,0,0,0)"),
                                 error_y=dict(type="data", array=[sds[i]], arrayminus=[min(sds[i], means[i])],
                                              color=PHASE_COL[phase[i]], thickness=2.2, width=9),
                                 cliponaxis=False, showlegend=False, hoverinfo="skip"))
    fig.add_trace(go.Scatter(x=list(range(len(means))), y=means, mode="markers", xaxis=xa, yaxis=ya,
                             marker=dict(symbol="line-ew", size=32, line=dict(width=2.6, color="black")),
                             cliponaxis=False, showlegend=False, hoverinfo="skip"))
    layout[axkey("x", n)] = dict(domain=[fx(XD_PX[0]), fx(XD_PX[1])], anchor=ya, range=XR_D, tickmode="array",
                                 tickvals=list(range(len(days_efg))), ticktext=days_efg, tickangle=0,
                                 ticks="outside", ticklen=7, tickwidth=2.5, showline=True, linewidth=2.5,
                                 linecolor="black", showgrid=False, zeroline=False, ticklabelstandoff=1,
                                 automargin=False,
                                 tickfont=dict(family=FONT, size=21, color="black", weight="bold"))
    layout[axkey("y", n)] = dict(domain=[fy(y0), fy(y1)], anchor=xa, range=[0, ytop], tickmode="array",
                                 tickvals=yticks, ticktext=[f"{v:.1f}" for v in yticks], ticks="outside",
                                 ticklen=10, tickwidth=2.5, showline=True, linewidth=2.5, linecolor="black",
                                 showgrid=False, zeroline=False, ticklabelstandoff=5, automargin=False,
                                 tickfont=dict(family=FONT, size=21, color="black", weight="bold"))
    ppx = (XD_PX[1] - XD_PX[0]) / (XR_D[1] - XR_D[0])

    def xpx(v):
        return XD_PX[0] + (v - XR_D[0]) * ppx

    for (txt, target), lvl in zip(pvals, levels):
        ypx = y0 - lvl * ppu
        xs, xe = xpx(-0.09), xpx(target - 0.09)
        shapes.append(dict(type="line", xref="paper", yref="paper", x0=fx(xs), x1=fx(xe), y0=fy(ypx), y1=fy(ypx),
                           line=dict(color="black", width=2.4)))
        ann(xpx(target / 2 + 0.12), ypx - 13, f"<i>P</i> = {txt}", 22)
    ann(1084, (y0 + y1) / 2, "Relative abundance", 22, weight="bold", textangle=-90)
    ann(1371, y0 + 62, "Study day", 22, weight="bold")


dot_panel(11, e_points, e_mean, e_sd, 852.7, 566.7, 0.8, [0, 0.2, 0.4, 0.6, 0.8], e_pvals,
          [1.04, 0.972, 0.9035, 0.8336, 0.7636])
dot_panel(12, f_points, f_mean, f_sd, 1342.3, 1055.7, 0.8, [0, 0.2, 0.4, 0.6, 0.8], f_pvals,
          [0.9785, 0.9087, 0.8345, 0.7535])
dot_panel(13, g_points, g_mean, g_sd, 1800.7, 1514.0, 0.6, [0, 0.2, 0.4, 0.6], g_pvals,
          [0.685, 0.633, 0.5806])

# phase legend
for i, (label, key) in enumerate([("Pre-antibiotics", "pre"), ("Antibiotics", "abx"), ("Post-antibiotics", "post")]):
    yc = 1098 + i * 57.5
    shapes.append(dict(type="rect", xref="paper", yref="paper", x0=fx(1648), x1=fx(1665), y0=fy(yc + 8.5),
                       y1=fy(yc - 8.5), fillcolor=PHASE_COL[key], line=dict(width=0)))
    ann(1682, yc, label, 30, xanchor="left")

# panel letters
for letter, x, y in [("a", 15, 27), ("b", 15, 1017), ("c", 1032, 27), ("d", 1598, 27),
                     ("e", 1088, 456), ("f", 1082, 955), ("g", 1089, 1461)]:
    ann(x, y, letter, 48, weight="bold")

fig.update_layout(width=W, height=H, margin=dict(l=0, r=0, t=0, b=0, pad=0, autoexpand=False),
                  paper_bgcolor="white", plot_bgcolor="rgba(0,0,0,0)", barmode="stack",
                  showlegend=False, hovermode=False, shapes=shapes, annotations=annots, **layout)

# the page body has a default 8px margin; remove it so the figure sits at the window origin
fig.write_html("out.html", config={"displayModeBar": False, "staticPlot": True},
               post_script="document.body.style.margin='0px';")
